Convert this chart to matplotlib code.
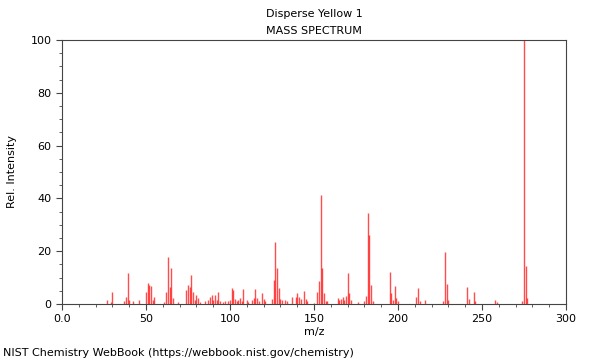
import matplotlib
matplotlib.use('Agg')
import matplotlib.pyplot as plt
from matplotlib.ticker import MultipleLocator

# m/z and relative intensity
mz = [27, 29, 30, 37, 38, 39, 40, 42, 46, 50, 51, 52, 53, 54, 55, 61, 62, 63, 64, 65, 66,
      69, 74, 75, 76, 77, 78, 79, 80, 81, 82, 85, 87, 88, 89, 90, 91, 92, 93, 94, 96, 97,
      99, 100, 101, 102, 103, 104, 105, 106, 107, 108, 110, 111, 113, 114, 115, 116, 117,
      119, 120, 121, 125, 126, 127, 128, 129, 130, 131, 133, 134, 137, 139, 140, 141, 142,
      144, 145, 146, 150, 152, 153, 154, 155, 156, 157, 158, 164, 165, 166, 167, 168, 169,
      170, 171, 172, 176, 180, 181, 182, 183, 184, 185, 195, 196, 197, 198, 199, 200, 211,
      212, 213, 216, 227, 228, 229, 230, 241, 242, 245, 246, 258, 259, 274, 275, 276, 277]
intensity = [1.5, 0.7, 4.5, 1.0, 2.8, 11.9, 1.5, 1.0, 1.5, 4.4, 8.0, 7.2, 6.8, 1.5, 2.5, 0.8,
             4.7, 17.7, 6.6, 13.5, 2.3, 0.9, 5.3, 7.2, 6.3, 11.0, 4.4, 1.5, 3.4, 2.4, 0.8, 1.0,
             1.5, 2.5, 3.3, 1.5, 3.3, 1.5, 4.4, 1.0, 0.8, 1.3, 1.3, 1.5, 5.9, 5.3, 2.0, 1.2,
             1.5, 2.3, 1.2, 5.6, 1.5, 0.8, 1.5, 2.3, 5.6, 2.3, 1.0, 4.0, 2.0, 1.0, 2.0, 9.0,
             23.4, 13.5, 6.0, 2.0, 1.5, 1.5, 1.0, 2.8, 2.8, 4.0, 2.5, 2.0, 5.0, 2.0, 1.0, 0.5,
             4.4, 8.7, 41.3, 13.8, 4.3, 1.0, 1.0, 2.2, 1.5, 2.0, 2.7, 1.5, 3.0, 11.9, 4.3, 1.5,
             0.7, 1.0, 3.2, 34.6, 26.1, 7.2, 1.0, 12.0, 4.3, 1.5, 6.8, 2.2, 1.0, 2.8, 5.9, 1.0,
             1.5, 1.0, 19.8, 7.6, 1.5, 6.3, 1.8, 4.4, 1.0, 1.5, 0.8, 1.2, 100.0, 14.5, 2.2]

xtick_vals = [0, 50, 100, 150, 200, 250, 300]
xtick_labels = ['0.0', '50', '100', '150', '200', '250', '300']

fig = plt.figure(figsize=(6, 3.6), dpi=100)
ax = fig.add_axes([62 / 600, 1 - 304 / 360, 504 / 600, 264 / 360])

ax.vlines(mz, 0, intensity, color='red', linewidth=1, alpha=0.7)

ax.set_xlim(0, 300)
ax.set_ylim(0, 100)
ax.set_xticks(xtick_vals)
ax.set_xticklabels(xtick_labels)
ax.xaxis.set_minor_locator(MultipleLocator(10))
ax.yaxis.set_major_locator(MultipleLocator(20))
ax.yaxis.set_minor_locator(MultipleLocator(5))
ax.tick_params(which='both', direction='out', labelsize=8, color='#444444')
ax.tick_params(which='major', length=4)
ax.tick_params(which='minor', length=2)
for sp in ax.spines.values():
    sp.set_color('#444444')
    sp.set_linewidth(0.8)

ax.set_xlabel('m/z', fontsize=8, labelpad=2)
ax.set_ylabel('Rel. Intensity', fontsize=8, labelpad=10)
ax.set_title('Disperse Yellow 1\nMASS SPECTRUM', fontsize=8, linespacing=1.9, pad=4)

fig.text(0.005, 0.01, 'NIST Chemistry WebBook (https://webbook.nist.gov/chemistry)', fontsize=8)

plt.savefig('out.png', dpi=100)
plt.close()
